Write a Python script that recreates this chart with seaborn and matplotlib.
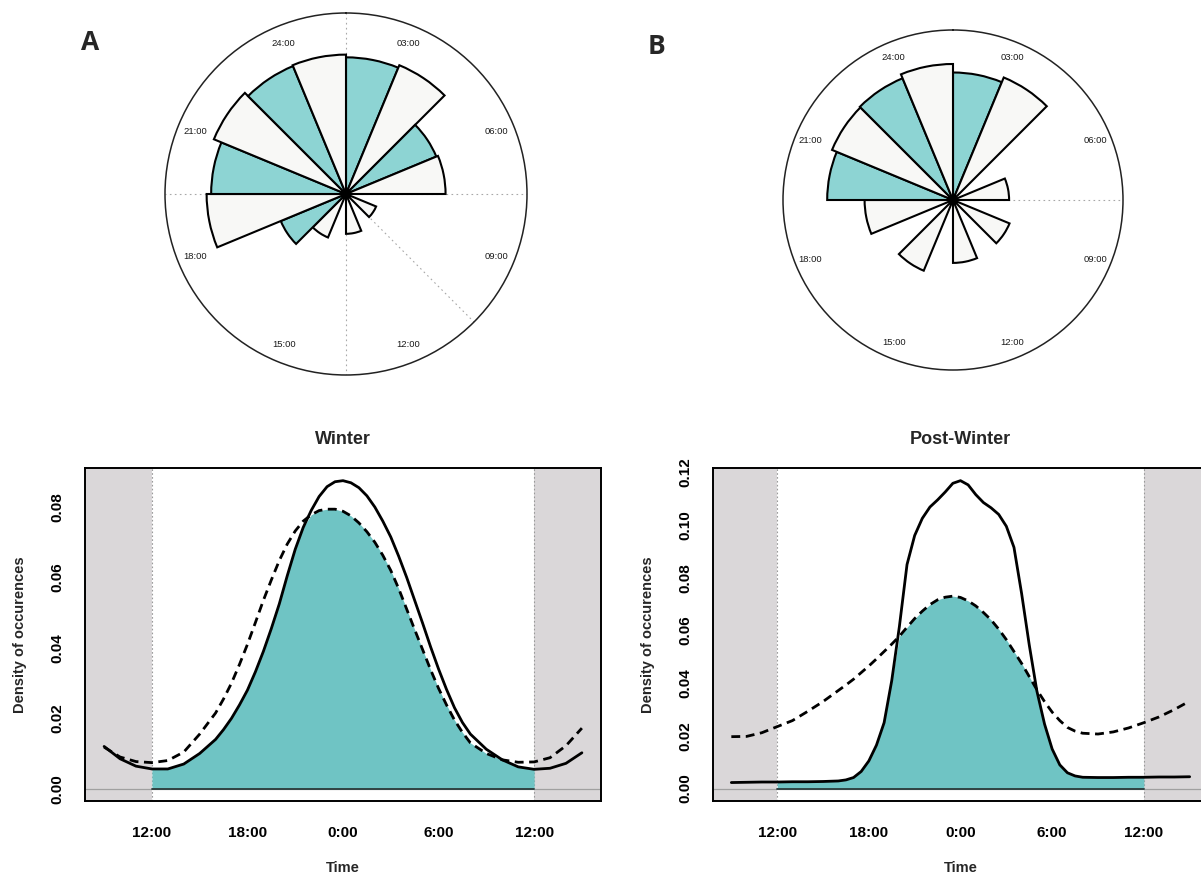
import numpy as np
import pandas as pd
import matplotlib
matplotlib.use("Agg")
import matplotlib.pyplot as plt
import seaborn as sns

# ---------------- data ----------------
# rose diagrams: 16 bins of 1.5 h, clockwise from the top (relative radius)
rose_bin_start_h = [0.0, 1.5, 3.0, 4.5, 6.0, 7.5, 9.0, 10.5,
                    12.0, 13.5, 15.0, 16.5, 18.0, 19.5, 21.0, 22.5]
rose_A = [0.755, 0.77, 0.54, 0.55, 0.0, 0.18, 0.0, 0.22,
          0.0, 0.26, 0.39, 0.77, 0.745, 0.79, 0.765, 0.77]
rose_B = [0.75, 0.78, 0.0, 0.33, 0.0, 0.36, 0.0, 0.37,
          0.0, 0.45, 0.0, 0.52, 0.74, 0.77, 0.775, 0.80]
clock_labels = ["24:00", "03:00", "06:00", "09:00", "12:00", "15:00", "18:00", "21:00"]

# density curves (x = hours relative to midnight)
winter_hours = [-15, -14, -13, -12, -11, -10, -9,
                -8, -7.5, -7, -6.5, -6, -5.5, -5, -4.5, -4, -3.5, -3, -2.5, -2, -1.5,
                -1, -0.5, 0, 0.5, 1, 1.5, 2, 2.5, 3, 3.5, 4, 4.5, 5, 5.5, 6, 6.5,
                7, 7.5, 8,
                9, 10, 11, 12, 13, 14, 15]
winter_solid = [0.0120, 0.0085, 0.0064, 0.0056, 0.0056, 0.0070, 0.0100,
                0.0140, 0.0168, 0.0200, 0.0238, 0.0280, 0.0332, 0.0390, 0.0455,
                0.0525, 0.0605, 0.0680, 0.0742, 0.0790, 0.0830,
                0.0858, 0.0872, 0.0875, 0.0869, 0.0855, 0.0832, 0.0800, 0.0760,
                0.0715, 0.0660, 0.0600, 0.0535, 0.0470, 0.0403, 0.0340, 0.0282,
                0.0230, 0.0188, 0.0155,
                0.0112, 0.0082, 0.0062, 0.0055, 0.0058, 0.0072, 0.0102]
winter_dashed = [0.0118, 0.0090, 0.0077, 0.0074, 0.0080, 0.0104, 0.0155,
                 0.0215, 0.0255, 0.0300, 0.0353, 0.0410, 0.0472, 0.0535, 0.0593,
                 0.0648, 0.0695, 0.0732, 0.0760, 0.0778, 0.0790,
                 0.0794, 0.0794, 0.0788, 0.0775, 0.0755, 0.0730, 0.0700, 0.0663,
                 0.0620, 0.0568, 0.0510, 0.0452, 0.0395, 0.0338, 0.0285, 0.0238,
                 0.0195, 0.0160, 0.0130,
                 0.0100, 0.0082, 0.0075, 0.0076, 0.0088, 0.0122, 0.0172]

post_hours = [-15, -14, -13, -12, -11, -10, -9, -8,
              -7.5, -7, -6.5, -6, -5.5, -5, -4.5, -4, -3.5, -3, -2.5, -2, -1.5, -1, -0.5,
              0, 0.5, 1, 1.5, 2, 2.5, 3, 3.5, 4, 4.5, 5, 5.5, 6, 6.5, 7, 7.5, 8,
              9, 10, 11, 12, 13, 14, 15]
post_solid = [0.0023, 0.0024, 0.0025, 0.0025, 0.0026, 0.0026, 0.0027, 0.0029,
              0.0033, 0.0042, 0.0065, 0.0105, 0.0165, 0.0250, 0.0410, 0.0615, 0.0850,
              0.0960, 0.1025, 0.1068, 0.1095, 0.1125, 0.1158,
              0.1168, 0.1152, 0.1115, 0.1085, 0.1065, 0.1040, 0.0995, 0.0915, 0.0740,
              0.0545, 0.0370, 0.0245, 0.0150, 0.0090, 0.0060, 0.0048, 0.0043,
              0.0042, 0.0042, 0.0043, 0.0043, 0.0044, 0.0044, 0.0045]
post_dashed = [0.0197, 0.0198, 0.0212, 0.0235, 0.0258, 0.0293, 0.0330, 0.0372,
               0.0393, 0.0415, 0.0440, 0.0465, 0.0492, 0.0520, 0.0548, 0.0578, 0.0612,
               0.0645, 0.0673, 0.0698, 0.0716, 0.0726, 0.0730,
               0.0725, 0.0712, 0.0693, 0.0668, 0.0640, 0.0605, 0.0565, 0.0520, 0.0475,
               0.0425, 0.0375, 0.0330, 0.0290, 0.0258, 0.0232, 0.0218, 0.0210,
               0.0207, 0.0215, 0.0230, 0.0250, 0.0272, 0.0300, 0.0332]

time_ticks = [-12, -6, 0, 6, 12]
time_labels = ["12:00", "18:00", "0:00", "6:00", "12:00"]

# ---------------- style ----------------
sns.set_theme(style="white")
plt.rcParams["font.family"] = ["Liberation Sans", "DejaVu Sans"]

TEAL_ROSE = "#8dd4d3"
WHITE_ROSE = "#f8f8f6"
TEAL_FILL = "#6fc4c4"
BAND = "#dad7d9"

fig = plt.figure(figsize=(12.01, 8.80), dpi=100)
W, H = 1201.0, 880.0


def rose(rect, radii, label_r, guides):
    ax = fig.add_axes(rect, projection="polar")
    ax.set_theta_zero_location("N")
    ax.set_theta_direction(-1)
    theta = np.deg2rad(np.array(rose_bin_start_h) * 15.0)
    colors = [TEAL_ROSE if i % 2 == 0 else WHITE_ROSE for i in range(len(radii))]
    ax.bar(theta, radii, width=2 * np.pi / len(radii), align="edge",
           color=colors, edgecolor="black", linewidth=1.5, zorder=3)
    for ang in guides:
        ax.plot([np.deg2rad(ang), np.deg2rad(ang)], [0, 1], color="#a8a8a8",
                lw=0.8, ls=(0, (1.5, 3)), zorder=1)
    ax.scatter([0], [0], s=28, color="black", zorder=5)
    for k, lab in enumerate(clock_labels):
        ang = np.deg2rad(45 * k - 22.5)
        ax.text(ang, label_r, lab, ha="center", va="center", fontsize=6.8,
                color="#1a1a1a")
    ax.set_ylim(0, 1)
    ax.set_xticks([])
    ax.set_yticks([])
    ax.grid(False)
    ax.spines["polar"].set_linewidth(1.1)
    ax.spines["polar"].set_color("#222222")
    ax.set_facecolor("white")
    return ax


rose([165 / W, 1 - 375 / H, 362 / W, 362 / H], rose_A, 0.9, [0, 90, 180, 270, 135])
rose([783 / W, 1 - 370 / H, 340 / W, 340 / H], rose_B, 0.91, [90])

fig.text(90 / W, 1 - 43 / H, "A", fontsize=19, fontweight="bold",
         ha="center", va="center", family=["Open Sans", "DejaVu Sans"])
fig.text(657 / W, 1 - 47 / H, "B", fontsize=19, fontweight="bold",
         ha="center", va="center", family=["Open Sans", "DejaVu Sans"])


def density(rect, hours, solid, dashed, ylim, yticks, title):
    ax = fig.add_axes(rect)
    x = np.array(hours, dtype=float)
    s = np.array(solid)
    d = np.array(dashed)
    ax.set_xlim(-16.2, 16.2)
    ax.set_ylim(*ylim)
    ax.axvspan(-16.2, -12, color=BAND, lw=0, zorder=0)
    ax.axvspan(12, 16.2, color=BAND, lw=0, zorder=0)
    for v in (-12, 12):
        ax.axvline(v, color="#9a9a9a", lw=0.8, ls=(0, (1.5, 2)), zorder=1)
    ax.axhline(0, color="#a0a0a0", lw=0.9, zorder=1)
    m = (x >= -12) & (x <= 12)
    ax.fill_between(x[m], 0, np.minimum(s, d)[m], color=TEAL_FILL, lw=0, zorder=2)
    ax.plot([-12, 12], [0, 0], color="#2a3a3a", lw=1.3, zorder=3)
    df = pd.DataFrame({"hour": x, "solid": s, "dashed": d})
    sns.lineplot(data=df, x="hour", y="solid", ax=ax, color="black", lw=2.0,
                 zorder=4, errorbar=None)
    sns.lineplot(data=df, x="hour", y="dashed", ax=ax, color="black", lw=2.0,
                 zorder=4, errorbar=None)
    ax.lines[-1].set_dashes([3.2, 2.0])
    ax.set_xticks(time_ticks)
    ax.set_xticklabels(time_labels)
    ax.set_yticks(yticks)
    ax.set_yticklabels([f"{v:.2f}" for v in yticks])
    ax.tick_params(axis="both", direction="out", length=7, width=1.2,
                   labelsize=11, pad=8, colors="black")
    ax.tick_params(axis="x", pad=11)
    for lbl in ax.get_yticklabels():
        lbl.set_rotation(90)
        lbl.set_va("center")
    for lbl in ax.get_xticklabels() + ax.get_yticklabels():
        lbl.set_fontweight("bold")
    for sp in ax.spines.values():
        sp.set_visible(True)
        sp.set_color("black")
        sp.set_linewidth(1.4)
    ax.set_xlabel("Time", fontsize=10.5, fontweight="bold", labelpad=15)
    ax.set_ylabel("Density of occurences", fontsize=10.5, fontweight="bold",
                  labelpad=17)
    ax.set_title(title, fontsize=13, fontweight="bold", pad=17)
    ax.set_facecolor("white")
    return ax


density([85 / W, 1 - 801 / H, 516 / W, 333 / H], winter_hours, winter_solid,
        winter_dashed, (-0.0035, 0.0911), [0.0, 0.02, 0.04, 0.06, 0.08], "Winter")
density([713 / W, 1 - 801 / H, 495 / W, 333 / H], post_hours, post_solid,
        post_dashed, (-0.0047, 0.1216), [0.0, 0.02, 0.04, 0.06, 0.08, 0.10, 0.12],
        "Post-Winter")

fig.savefig("out.png", dpi=100)
